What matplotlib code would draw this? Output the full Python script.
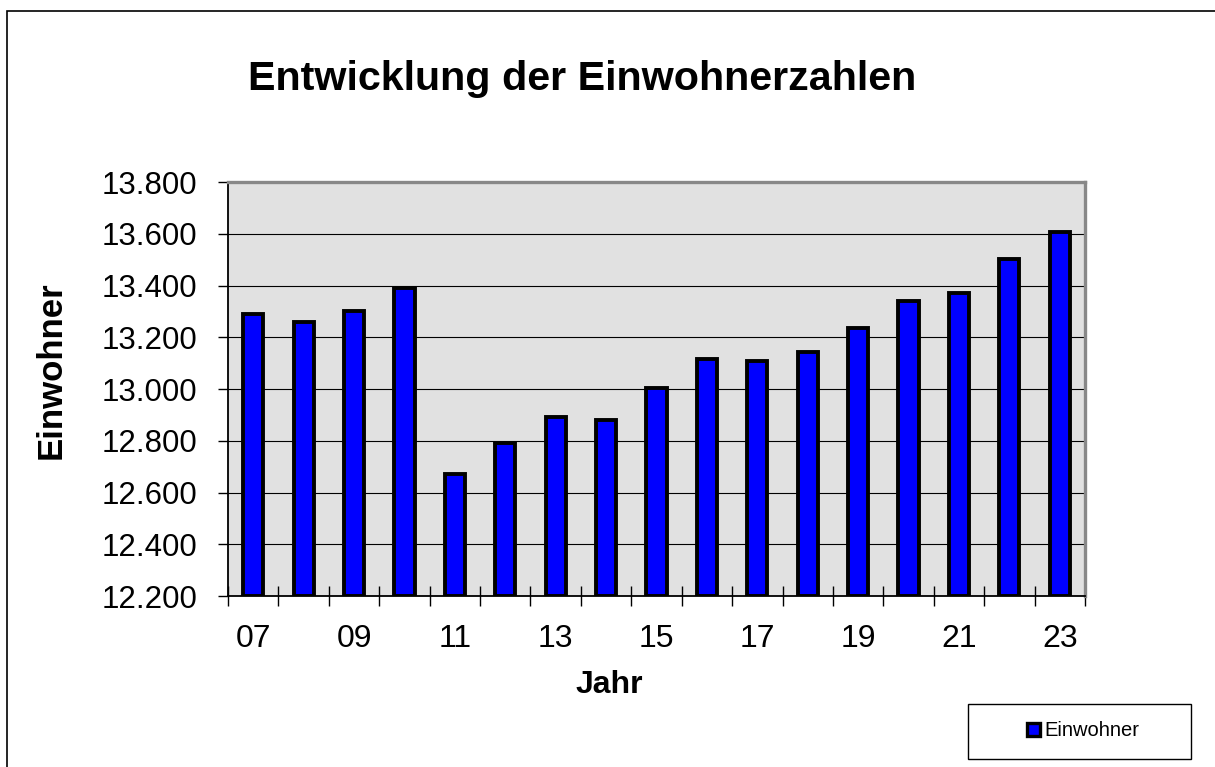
import matplotlib.pyplot as plt
import numpy as np
from matplotlib.ticker import FuncFormatter
from matplotlib.patches import Patch, Rectangle

plt.rcParams['font.family'] = ['Liberation Sans', 'DejaVu Sans']

# data
jahre = ['07', '08', '09', '10', '11', '12', '13', '14', '15',
         '16', '17', '18', '19', '20', '21', '22', '23']
einwohner = [13290, 13260, 13300, 13390, 12670, 12790, 12890, 12880, 13005,
             13117, 13110, 13142, 13237, 13341, 13372, 13501, 13608]
y_min, y_max, y_step = 12200, 13800, 200

W, H = 1215, 767
fig = plt.figure(figsize=(W / 100, H / 100), dpi=100)

ax = fig.add_axes([228 / W, 1 - 596 / H, (1085 - 228) / W, (596 - 182) / H])
ax.set_facecolor('#E1E1E1')

x = np.arange(len(jahre))
ax.bar(x, np.array(einwohner) - y_min, bottom=y_min, width=0.40,
       color='#0000FF', edgecolor='black', linewidth=2.8, zorder=3)

ax.set_xlim(-0.5, len(jahre) - 0.5)
ax.set_ylim(y_min, y_max)

# y axis, german thousands separator
ax.set_yticks(np.arange(y_min, y_max + 1, y_step))
ax.yaxis.set_major_formatter(FuncFormatter(lambda v, p: f'{int(v):,}'.replace(',', '.')))
ax.yaxis.grid(True, color='black', linewidth=0.8, zorder=1)
ax.set_axisbelow(True)
ax.tick_params(axis='y', direction='out', length=7.2, width=1, pad=15, labelsize=22.5)

# x axis: tick marks between categories, labels on every second year
ax.set_xticks(np.arange(-0.5, len(jahre), 1))
ax.set_xticklabels([])
ax.tick_params(axis='x', which='major', direction='inout', length=14, width=1)
ax.set_xticks(x[::2], minor=True)
ax.set_xticklabels(jahre[::2], minor=True)
ax.tick_params(axis='x', which='minor', length=0, pad=20, labelsize=23)

for s in ['top', 'right']:
    ax.spines[s].set_color('#888888')
    ax.spines[s].set_linewidth(2.4)
for s in ['left', 'bottom']:
    ax.spines[s].set_color('black')
    ax.spines[s].set_linewidth(1.3)

# texts
fig.text(582.5 / W, 1 - 90 / H, 'Entwicklung der Einwohnerzahlen',
         ha='center', va='baseline', fontsize=29.7, fontweight='bold')
fig.text(51 / W, 1 - 370 / H, 'Einwohner', rotation=90,
         ha='center', va='center', fontsize=25, fontweight='bold')
fig.text(609 / W, 1 - 693 / H, 'Jahr', ha='center', va='baseline',
         fontsize=23, fontweight='bold')

# legend in its own box
fig.legend(handles=[Patch(facecolor='#0000FF', edgecolor='black', linewidth=2.4, label='Einwohner')],
           loc='center', bbox_to_anchor=(1083 / W, 1 - 731 / H), frameon=False,
           fontsize=14.5, handlelength=0.65, handleheight=0.65, handletextpad=0.2)
fig.add_artist(Rectangle((968 / W, 1 - 759 / H), 223 / W, 55 / H, transform=fig.transFigure,
                         fill=False, edgecolor='black', linewidth=1))

# outer chart border (runs off right and bottom)
fig.add_artist(Rectangle((7 / W, -0.1), 1.0, 1.1 - 11 / H, transform=fig.transFigure,
                         fill=False, edgecolor='black', linewidth=1.2))

fig.savefig('out.png', dpi=100)
